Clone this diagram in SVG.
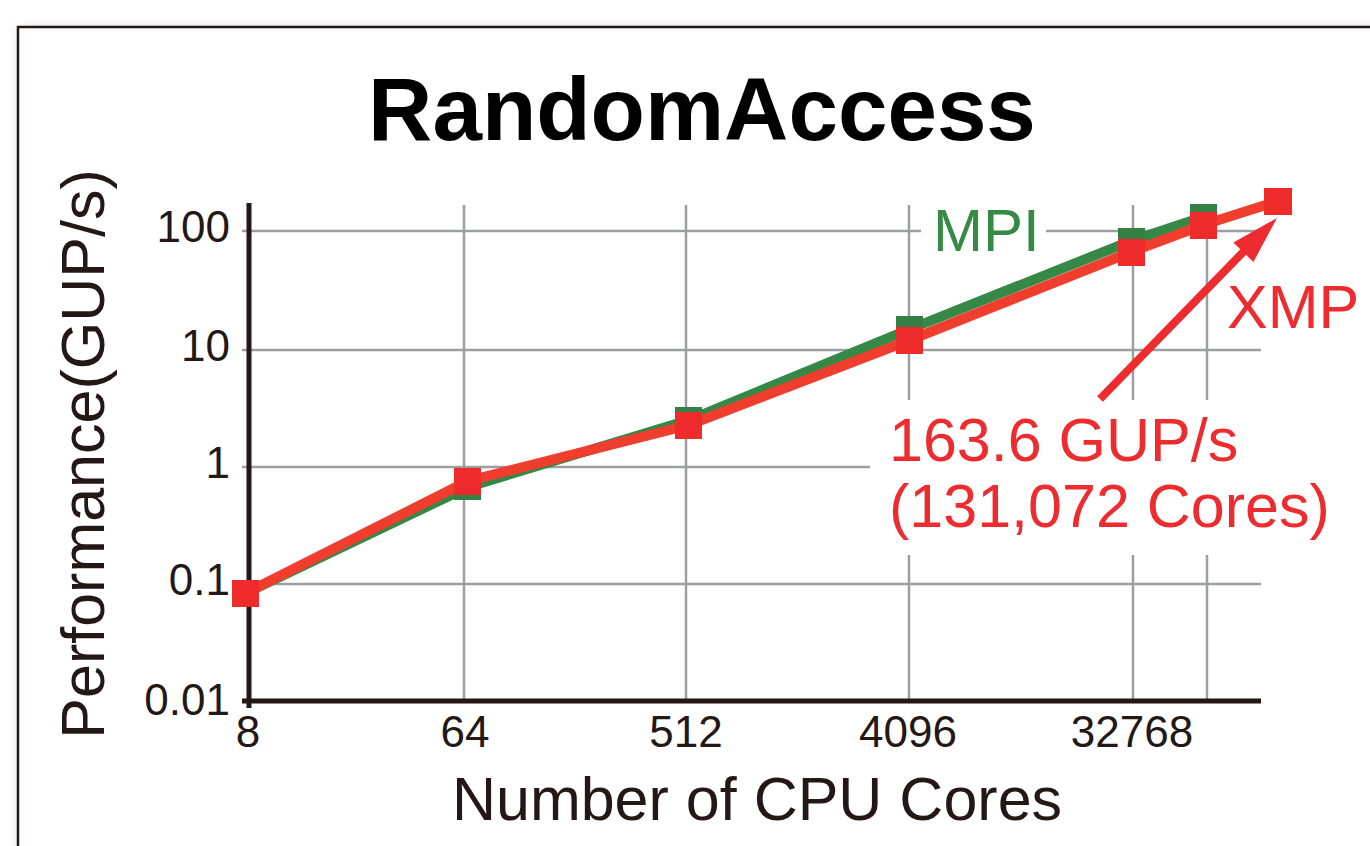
<svg xmlns="http://www.w3.org/2000/svg" width="1370" height="846" viewBox="0 0 1370 846">
<defs>
<filter id="sh" x="-5%" y="-5%" width="110%" height="110%"><feGaussianBlur stdDeviation="6"/></filter>
<style>
text{font-family:"Liberation Sans",Arial,sans-serif}
.grid{stroke:#9d9ea2;stroke-width:2.5;fill:none}
.axis{stroke:#231815;stroke-width:5;fill:none}
.tick{font-size:44px;fill:#231815}
.lbl{font-size:61px;fill:#231815}
.mpiL{fill:none;stroke:#368846;stroke-width:10;stroke-linejoin:miter}
.xmpL{fill:none;stroke:#ef3e2e;stroke-width:10;stroke-linejoin:miter}
.mpiM{fill:#347f44}
.xmpM{fill:#ee2a2a}
.red{fill:#ee2b2f;font-size:61px}
</style>
</defs>
<rect width="1370" height="846" fill="#ffffff"/>
<rect x="18" y="27" width="1400" height="900" fill="#000" opacity="0.12" filter="url(#sh)"/>
<rect x="18" y="27" width="1400" height="900" fill="#ffffff"/>
<path d="M18,846 V27 H1370" fill="none" stroke="#231815" stroke-width="2.5"/>
<text id="title" x="702" y="140" text-anchor="middle" font-size="89" font-weight="bold" fill="#000">RandomAccess</text>
<g id="grid">
<path class="grid" d="M242,231 H921 M1046,231 H1261 M242,350 H1261 M242,467 H870 M242,584 H1261"/>
<path class="grid" d="M464,205 V701 M686,205 V701 M909,205 V400 M909,555 V701 M1133,205 V400 M1133,555 V701 M1207,205 V400 M1207,555 V701"/>
</g>
<g id="axes">
<path class="axis" d="M249,203 V708"/>
<path class="axis" d="M242,701 H1261"/>
</g>
<g id="y-ticks" class="tick">
<text x="230" y="242" text-anchor="end">100</text>
<text x="230" y="361" text-anchor="end">10</text>
<text x="230" y="478" text-anchor="end">1</text>
<text x="230" y="595" text-anchor="end">0.1</text>
<text x="230" y="715" text-anchor="end">0.01</text>
</g>
<g id="x-ticks" class="tick">
<text x="248" y="747" text-anchor="middle">8</text>
<text x="465" y="747" text-anchor="middle">64</text>
<text x="686" y="747" text-anchor="middle">512</text>
<text x="908" y="747" text-anchor="middle">4096</text>
<text x="1132" y="747" text-anchor="middle">32768</text>
</g>
<text id="ylabel" class="lbl" transform="translate(104,454) rotate(-90)" text-anchor="middle">Performance(GUP/s)</text>
<text id="xlabel" class="lbl" x="757" y="820" text-anchor="middle">Number of CPU Cores</text>
<g id="series-mpi">
<polyline class="mpiL" points="246,593 468,487 689,420 910,329 1131,241 1203,217"/>
<rect class="mpiM" x="232" y="580" width="27" height="27"/>
<rect class="mpiM" x="454" y="473" width="27" height="27"/>
<rect class="mpiM" x="675" y="407" width="27" height="27"/>
<rect class="mpiM" x="896" y="316" width="27" height="27"/>
<rect class="mpiM" x="1118" y="228" width="27" height="27"/>
<rect class="mpiM" x="1190" y="204" width="27" height="27"/>
</g>
<g id="series-xmp">
<polyline class="xmpL" points="246,593 468,481 689,425 910,340 1131,252 1203,225 1278,201"/>
<rect class="xmpM" x="232" y="580" width="27" height="27"/>
<rect class="xmpM" x="454" y="468" width="27" height="27"/>
<rect class="xmpM" x="675" y="412" width="27" height="27"/>
<rect class="xmpM" x="896" y="327" width="27" height="27"/>
<rect class="xmpM" x="1118" y="239" width="27" height="27"/>
<rect class="xmpM" x="1190" y="212" width="27" height="27"/>
<rect class="xmpM" x="1264" y="188" width="28" height="27"/>
</g>
<text id="mpi-label" x="933" y="251" font-size="60" fill="#358a46">MPI</text>
<text id="xmp-label" class="red" x="1227" y="328">XMP</text>
<g id="annotation">
<text class="red" x="889" y="461">163.6 GUP/s</text>
<text class="red" x="889" y="527">(131,072 Cores)</text>
</g>
<g id="connectors">
<line x1="1100" y1="399" x2="1250" y2="245" stroke="#ee2b2f" stroke-width="8"/>
<polygon points="1277,218 1253.4,262.1 1233.4,242.5" fill="#ee2b2f"/>
</g>
</svg>
